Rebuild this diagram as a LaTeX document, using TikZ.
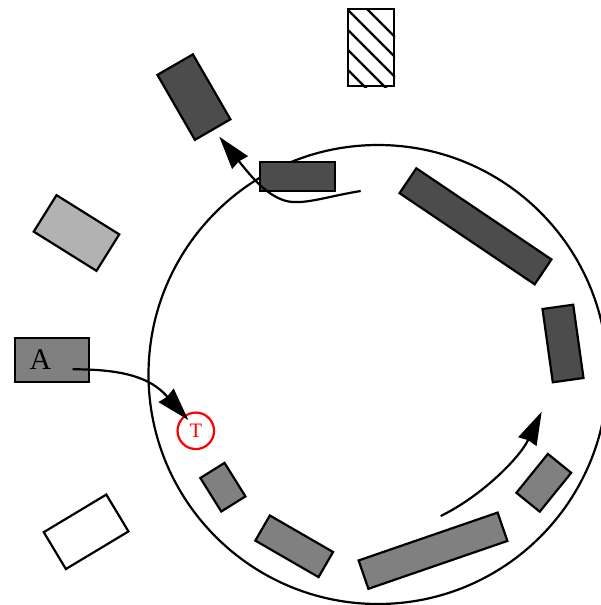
\documentclass[tikz,border=0pt]{standalone}
\usepackage{fontspec}
\setmainfont{Liberation Serif}
\usepackage{tikz}
\usetikzlibrary{arrows.meta, calc}
\begin{document}
\begin{tikzpicture}[x=1pt, y=-1pt,
	    blk/.style={draw, line width=2.2pt, inner sep=0pt},
	    dark/.style={blk, fill=black!70},
	    mid/.style={blk, fill=black!50},
	    light/.style={blk, fill=black!30},
	    conn/.style={line width=2.2pt, -{Stealth[length=33pt, width=20pt, inset=1.5pt]}},
	    hatchline/.style={line width=2.2pt}
	  ]
	  \useasboundingbox (0,0) rectangle (601,605);
	  \coordinate (O) at (378,374.5);
	  \draw[line width=2.2pt] (O) circle (229.5pt);

	  % boxes round the ring
	  \node[blk, minimum width=45.7pt, minimum height=77pt] (hatch) at (371.2,47.8) {};
	  \node[dark, minimum width=41pt, minimum height=75pt, rotate=30] (dTL) at (193.9,97.1) {};
	  \node[dark, minimum width=75pt, minimum height=29pt] (dTop) at (297.7,176.2) {};
	  \node[dark, minimum width=163pt, minimum height=30pt, rotate=-34] (dBar) at (475.5,226.3) {};
	  \node[dark, minimum width=31pt, minimum height=74pt, rotate=8] (dRight) at (563,343.5) {};
	  \node[light, minimum width=74pt, minimum height=43pt, rotate=-32] (lLeft) at (76.5,233) {};
	  \node[mid, minimum width=74pt, minimum height=44pt, text width=45pt, align=left,
	    font=\fontsize{30}{32}\selectfont] (A) at (52,359.7) {A};
	  \node[blk, fill=white, minimum width=73pt, minimum height=43pt, rotate=31] (wLeft) at (86.1,531.8) {};
	  \node[mid, minimum width=28.5pt, minimum height=39.5pt, rotate=32] (gA) at (222.9,487.2) {};
	  \node[mid, minimum width=73pt, minimum height=29pt, rotate=-30] (gB) at (294.2,546.3) {};
	  \node[mid, minimum width=147pt, minimum height=30pt, rotate=19] (gC) at (433,550.7) {};
	  \node[mid, minimum width=30pt, minimum height=50pt, rotate=-39] (gD) at (543.8,482.8) {};
	  \node[circle, draw=red, text=red, line width=2.2pt, minimum size=36.5pt, inner sep=0pt,
	    font=\fontsize{20.5}{22}\selectfont] (T) at (195.8,430.8) {T};

	  \begin{scope}
	    \clip (hatch.south west) rectangle (hatch.north east);
	    \foreach \c in {278,298,...,358} \draw[hatchline] (\c,0) -- ++(100,100);
	  \end{scope}

	  \coordinate (Aout) at ($(A.center)+(20.7,9.6)$);
	  \coordinate (Tin) at ($(T.center)+(-7.5,-10.8)$);
	  \coordinate (topFrom) at (360.7,191);
	  \coordinate (topTo) at (219.3,136.7);
	  \coordinate (botFrom) at (440.7,516);
	  \coordinate (botTo) at (541.7,411.7);

	  \draw[conn] (topFrom) .. controls (330,196) and (310,203) .. (293,202)
	    .. controls (270,201) and (250,175) .. (topTo);
	  \draw[conn] (Aout) .. controls (135,369) and (155,383) .. (Tin);
	  \draw[conn] (botFrom) .. controls (480,497) and (519,459) .. (botTo);
\end{tikzpicture}
\end{document}
